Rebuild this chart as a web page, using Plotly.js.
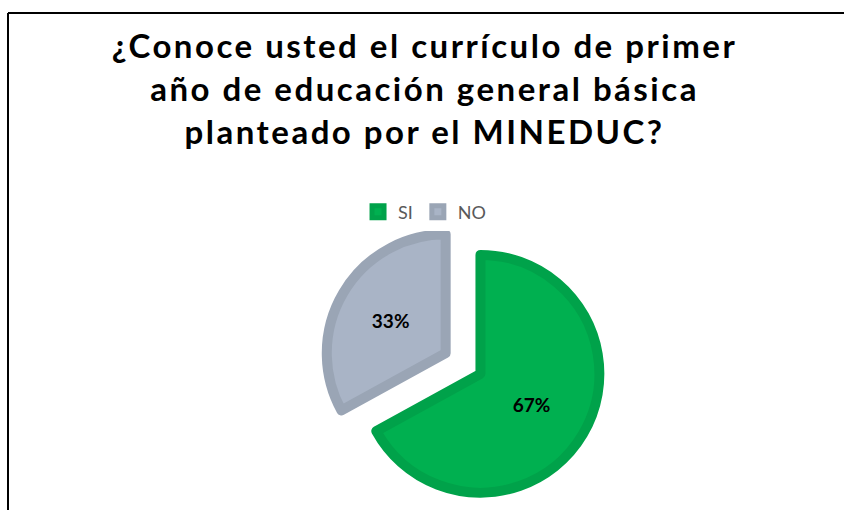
<!DOCTYPE html>
<html>
<head>
<meta charset="utf-8">
<script src="https://cdn.plot.ly/plotly-3.0.1.min.js"></script>
<style>
html,body{margin:0;padding:0;background:#fff;}
#chart{width:844px;height:510px;}
.gtitle{letter-spacing:2.5px;}
</style>
</head>
<body>
<div id="chart"></div>
<script>
var categories = ["SI", "NO"];
var values = [67, 33];
var fillColors = ["#00b050", "#a9b4c6"];
var edgeColors = ["#00a24a", "#9aa5b5"];
var titleText = "¿Conoce usted el currículo de primer<br>año de educación general básica<br>planteado por el MINEDUC?";

var trace = {
  type: "pie",
  labels: categories,
  values: values,
  sort: false,
  direction: "clockwise",
  rotation: 0,
  pull: [0.17, 0.17],
  marker: { colors: fillColors, line: { color: edgeColors, width: 10 } },
  texttemplate: "%{percent:.0%}",
  textposition: "inside",
  insidetextorientation: "horizontal",
  textfont: { family: "Lato, 'Open Sans', sans-serif", size: 19, color: "#000000", weight: "bold" },
  hoverinfo: "label+percent",
  domain: { x: [0.3838, 0.7135], y: [0.0145, 0.560] }
};

var layout = {
  width: 844,
  height: 510,
  margin: { l: 0, r: 0, t: 0, b: 0 },
  paper_bgcolor: "#ffffff",
  title: {
    text: titleText,
    font: { family: "Lato, 'Open Sans', sans-serif", size: 33, color: "#000000", weight: "bold" },
    x: 0.503,
    xanchor: "center",
    xref: "paper",
    y: 0.8862,
    yref: "container",
    yanchor: "middle"
  },
  showlegend: true,
  legend: {
    orientation: "h",
    x: 0.503,
    xanchor: "center",
    y: 1 - 212/510,
    yanchor: "middle",
    font: { family: "Lato, 'Open Sans', sans-serif", size: 18, color: "#595959" },
    traceorder: "normal",
    itemwidth: 30
  },
  shapes: [
    { type: "line", xref: "paper", yref: "paper", x0: 8/844, x1: 1.05, y0: 1 - 13/510, y1: 1 - 13/510, line: { color: "#000000", width: 2 } },
    { type: "line", xref: "paper", yref: "paper", x0: 8/844, x1: 8/844, y0: -0.05, y1: 1 - 13/510, line: { color: "#000000", width: 2 } }
  ]
};

Plotly.newPlot("chart", [trace], layout, { displayModeBar: false });
</script>
</body>
</html>
